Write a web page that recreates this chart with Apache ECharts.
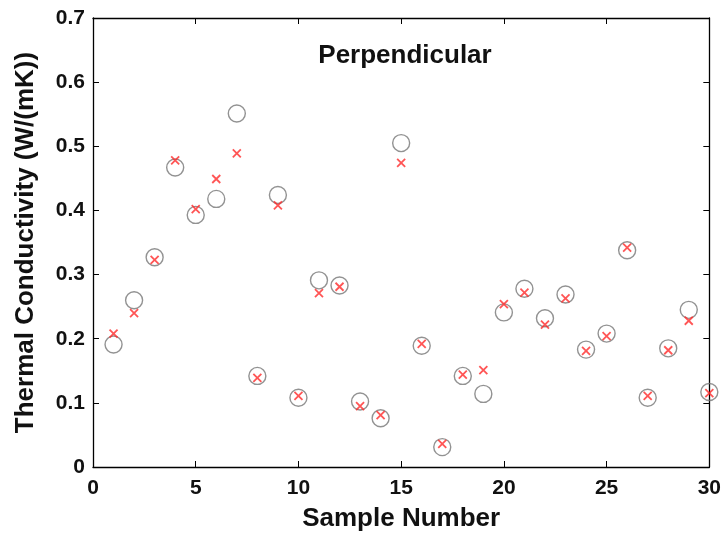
<!DOCTYPE html>
<html><head><meta charset="utf-8">
<script src="https://cdn.jsdelivr.net/npm/echarts@6/dist/echarts.min.js"></script>
<style>html,body{margin:0;padding:0;background:#fff}#c{width:724px;height:537px}</style>
</head><body><div id="c"></div>
<script>
const samples = [1,2,3,4,5,6,7,8,9,10,11,12,13,14,15,16,17,18,19,20,21,22,23,24,25,26,27,28,29,30];
const measured = [0.191,0.260,0.327,0.467,0.393,0.418,0.551,0.142,0.424,0.108,0.291,0.283,0.102,0.076,0.505,0.189,0.031,0.142,0.114,0.241,0.278,0.232,0.269,0.183,0.208,0.338,0.108,0.185,0.245,0.117];
const predicted = [0.208,0.240,0.323,0.478,0.402,0.449,0.489,0.139,0.408,0.111,0.271,0.281,0.095,0.081,0.474,0.192,0.036,0.144,0.151,0.254,0.272,0.222,0.263,0.181,0.204,0.342,0.111,0.182,0.228,0.115];
const xTicks = [0,5,10,15,20,25,30];
const yTicks = [0,0.1,0.2,0.3,0.4,0.5,0.6,0.7];

const font = 'Liberation Sans, Arial, sans-serif';
const chart = echarts.init(document.getElementById('c'));
const lineStyle = {color:'#000', width:1.3};
chart.setOption({
  animation:false,
  title:{text:'Perpendicular', left:400, top:38, textAlign:'center',
    textStyle:{fontFamily:font, fontWeight:'bold', fontSize:26, color:'#111'}},
  grid:{left:93, right:13, top:18, bottom:66},
  xAxis:[{type:'value', min:xTicks[0], max:xTicks[xTicks.length-1], interval:5,
    axisLine:{onZero:false, lineStyle}, axisTick:{inside:true, length:6, lineStyle:{color:'#000'}},
    axisLabel:{fontFamily:font, fontWeight:'bold', fontSize:21, color:'#111', margin:11},
    splitLine:{show:false},
    name:'Sample Number', nameLocation:'middle', nameGap:39,
    nameTextStyle:{fontFamily:font, fontWeight:'bold', fontSize:26, color:'#111'}},
   {type:'value', position:'top', min:xTicks[0], max:xTicks[xTicks.length-1], interval:5,
    axisLine:{onZero:false, lineStyle}, axisTick:{inside:true, length:6, lineStyle:{color:'#000'}},
    axisLabel:{show:false}, splitLine:{show:false}}],
  yAxis:[{type:'value', min:yTicks[0], max:yTicks[yTicks.length-1], interval:0.1,
    axisLine:{onZero:false, lineStyle}, axisTick:{inside:true, length:6, lineStyle:{color:'#000'}},
    axisLabel:{fontFamily:font, fontWeight:'bold', fontSize:21, color:'#111', margin:8,
      formatter:v=>{const r=Math.round(v*10)/10; return r===0?'0':String(r);}},
    splitLine:{show:false},
    name:'Thermal Conductivity (W/(mK))', nameLocation:'middle', nameGap:54, nameRotate:90,
    nameTextStyle:{fontFamily:font, fontWeight:'bold', fontSize:26, color:'#111'}},
   {type:'value', position:'right', min:yTicks[0], max:yTicks[yTicks.length-1], interval:0.1,
    axisLine:{onZero:false, lineStyle}, axisTick:{inside:true, length:6, lineStyle:{color:'#000'}},
    axisLabel:{show:false}, splitLine:{show:false}}],
  series:[
    {type:'scatter', data:samples.map((s,i)=>[s,measured[i]]), symbol:'circle', symbolSize:17,
     itemStyle:{color:'rgba(255,255,255,0)', borderColor:'#777', borderWidth:1.4}, z:2},
    {type:'scatter', data:samples.map((s,i)=>[s,predicted[i]]), symbol:'path://M0,0L10,10M10,0L0,10', symbolSize:8,
     itemStyle:{color:'none', borderColor:'#ff2a2a', borderWidth:1.8}, z:3}
  ]
});
</script></body></html>
